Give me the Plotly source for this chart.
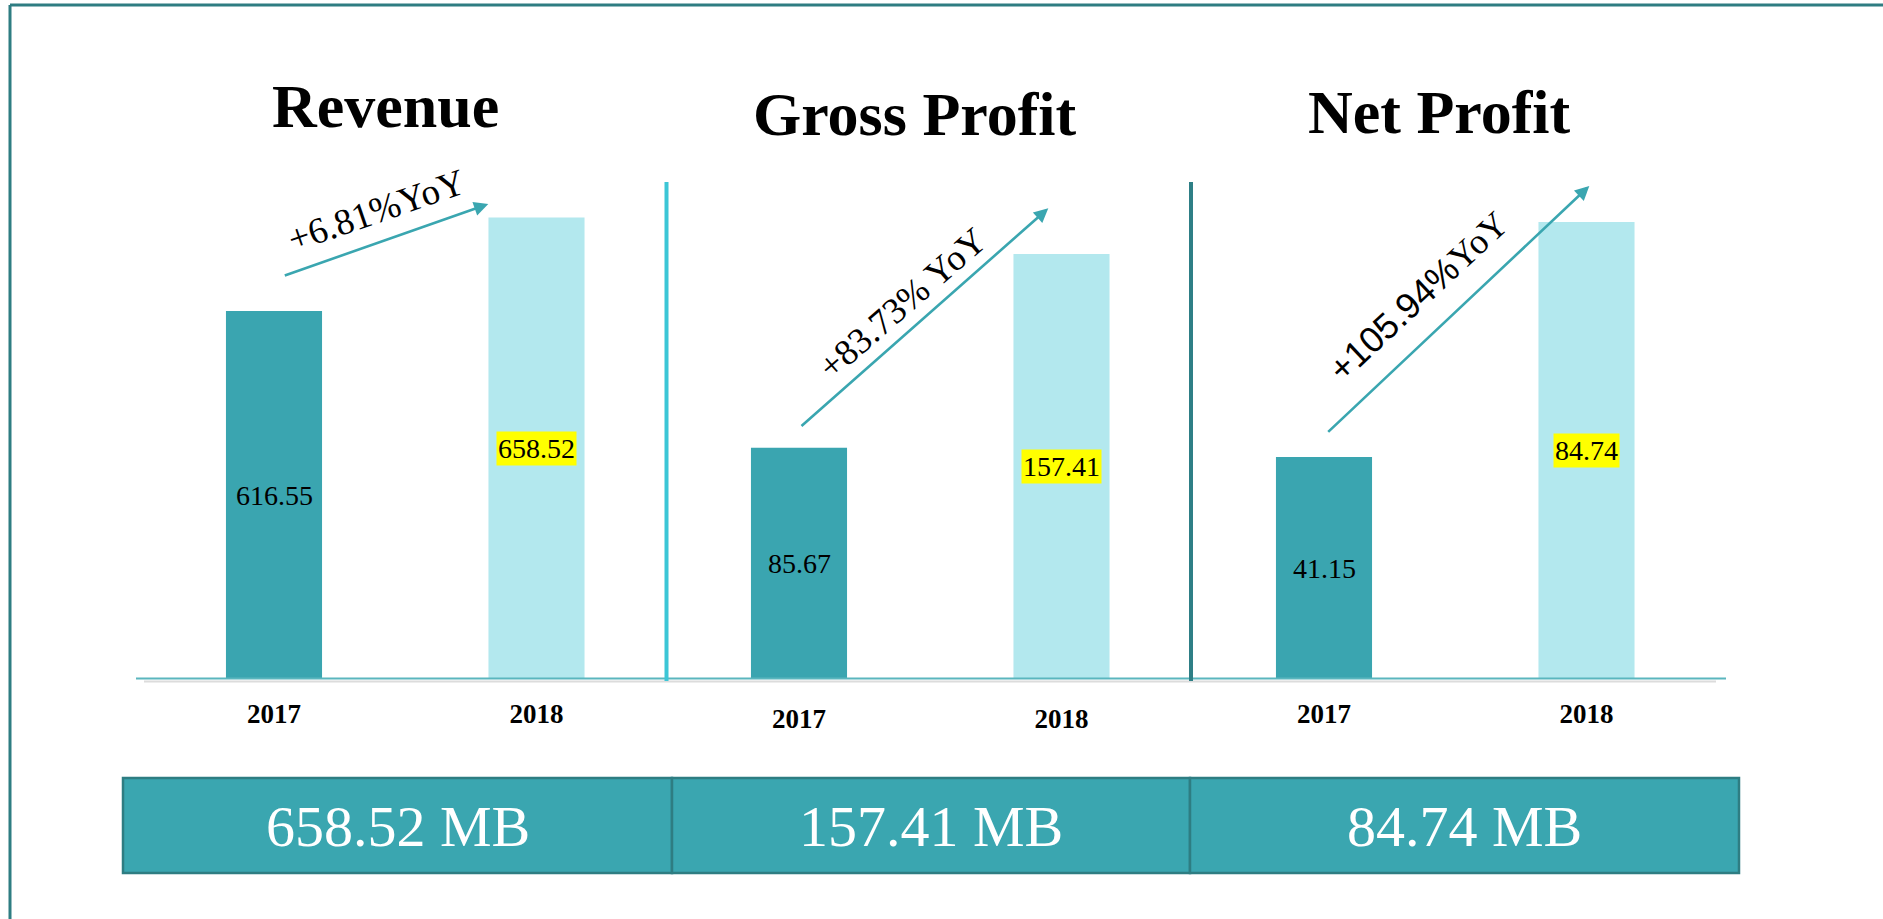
import plotly.graph_objects as go

# ---------------- data ----------------
panels = ["Revenue", "Gross Profit", "Net Profit"]
years = ["2017", "2018"]
revenue = [616.55, 658.52]
gross_profit = [85.67, 157.41]
net_profit = [41.15, 84.74]
yoy_labels = ["+6.81%YoY", "+83.73% YoY",
              '<span style="font-family:Liberation Sans">+105.94%</span>YoY']
totals = ["658.52 MB", "157.41 MB", "84.74 MB"]

series = [revenue, gross_profit, net_profit]
pos = list(range(len(years)))

# ---------------- layout helpers ----------------
W, H = 1883, 919
def px(x):
    return x / W
def py(y):
    return 1 - y / H

DARK = "#3aa5b0"
LIGHT = "#b3e8ee"
BORDER = "#2e7d82"
SERIF = "Liberation Serif"

y_ranges = [[451.4, 688.8], [0, 195.9], [0, 98.1]]
x_domains = [[142.75, 667.75], [667.75, 1192.75], [1192.75, 1717.75]]
y_dom = [py(679), py(150)]

fig = go.Figure()
for i, vals in enumerate(series):
    sfx = "" if i == 0 else str(i + 1)
    fig.add_trace(go.Bar(
        x=pos, y=vals, width=0.366,
        marker=dict(color=[DARK, LIGHT], line=dict(width=0)),
        xaxis="x" + sfx, yaxis="y" + sfx, showlegend=False,
        customdata=years, hovertemplate="%{customdata}: %{y}<extra></extra>",
    ))
    stand = 21 if i == 1 else 16
    fig.layout["xaxis" + sfx] = dict(
        type="linear", range=[-0.5, 1.5], tickvals=pos, ticktext=years,
        domain=[px(x_domains[i][0]), px(x_domains[i][1])], anchor="y" + sfx,
        showgrid=False, zeroline=False, showline=False, ticks="",
        tickfont=dict(family=SERIF, size=27, color="black", weight="bold"),
        ticklabelstandoff=stand, fixedrange=True, automargin=False,
    )
    fig.layout["yaxis" + sfx] = dict(
        type="linear", domain=y_dom, anchor="x" + sfx, range=y_ranges[i],
        showgrid=False, zeroline=False, showticklabels=False, showline=False,
        fixedrange=True, automargin=False,
    )
    # value labels at middle of visible bar
    base = y_ranges[i][0]
    for j, v in enumerate(vals):
        fig.add_annotation(
            x=pos[j], y=(base + v) / 2, xref="x" + sfx, yref="y" + sfx,
            text=f"{v:.2f}", showarrow=False,
            font=dict(family=SERIF, size=28, color="black"),
            bgcolor="#ffff00" if j == 1 else "rgba(0,0,0,0)", borderpad=1,
        )

# titles
title_pos = [(385.5, 106), (914.5, 114), (1439.5, 112)]
for t, (x, y) in zip(panels, title_pos):
    fig.add_annotation(x=px(x), y=py(y), xref="paper", yref="paper", text=t,
                       showarrow=False, xanchor="center", yanchor="middle",
                       font=dict(family=SERIF, size=62, color="black", weight="bold"))

# YoY arrows
arrows = [((488.3, 204), (283.3, 276)), ((1048.3, 208.3), (800, 427.3)),
          ((1589.3, 186), (1326.7, 433.3))]
for (tip, tail) in arrows:
    fig.add_annotation(x=px(tip[0]), y=py(tip[1]), xref="paper", yref="paper",
                       ax=tail[0] - tip[0], ay=tail[1] - tip[1], axref="pixel", ayref="pixel",
                       text="", showarrow=True, arrowhead=2, arrowsize=1.1,
                       arrowwidth=2.6, arrowcolor="#3aa6b0", standoff=0)

yoy_pos = [((376, 210), -19, 37), ((901.7, 303.3), -41, 36.5), ((1417.5, 296), -43, 36)]
for lab, ((x, y), ang, fs) in zip(yoy_labels, yoy_pos):
    fig.add_annotation(x=px(x), y=py(y), xref="paper", yref="paper", text=lab,
                       showarrow=False, textangle=ang, xanchor="center", yanchor="middle",
                       font=dict(family=SERIF, size=fs, color="black"))

shapes = []
# outer frame (top + left)
shapes.append(dict(type="line", xref="paper", yref="paper", x0=px(10), x1=px(1883),
                   y0=py(5), y1=py(5), line=dict(color=BORDER, width=3)))
shapes.append(dict(type="line", xref="paper", yref="paper", x0=px(10), x1=px(10),
                   y0=py(5), y1=py(919), line=dict(color=BORDER, width=3)))
# baseline
shapes.append(dict(type="line", xref="paper", yref="paper", x0=px(144), x1=px(1716),
                   y0=py(681.5), y1=py(681.5), line=dict(color="#dcdcdc", width=2)))
shapes.append(dict(type="line", xref="paper", yref="paper", x0=px(136), x1=px(1726),
                   y0=py(678.5), y1=py(678.5), line=dict(color="#5ab6be", width=2)))
# separators
shapes.append(dict(type="line", xref="paper", yref="paper", x0=px(666.5), x1=px(666.5),
                   y0=py(182), y1=py(681), line=dict(color="#3cc6d6", width=4)))
shapes.append(dict(type="line", xref="paper", yref="paper", x0=px(1191), x1=px(1191),
                   y0=py(182), y1=py(681), line=dict(color="#2e7f86", width=4)))
# bottom boxes
box_x = [(123, 672), (672, 1190), (1190, 1739)]
for (x0, x1), t in zip(box_x, totals):
    shapes.append(dict(type="rect", xref="paper", yref="paper", x0=px(x0), x1=px(x1),
                       y0=py(873), y1=py(778), fillcolor="#3aa6b0",
                       line=dict(color=BORDER, width=2.5)))
    fig.add_annotation(x=px((x0 + x1) / 2), y=py(826), xref="paper", yref="paper",
                       text=t, showarrow=False, xanchor="center", yanchor="middle",
                       font=dict(family=SERIF, size=58, color="white"))

fig.update_layout(
    shapes=shapes, width=W, height=H, margin=dict(l=0, r=0, t=0, b=0, autoexpand=False),
    paper_bgcolor="white", plot_bgcolor="rgba(0,0,0,0)",
)

fig.write_html("out.html", config={"displayModeBar": False},
               post_script="document.body.style.margin='0';")
